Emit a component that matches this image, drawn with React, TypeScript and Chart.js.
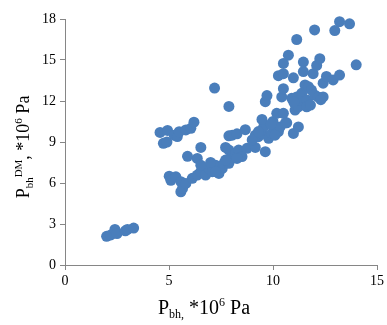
import React, { useEffect, useRef } from "react";
import { Chart, registerables } from "chart.js";

Chart.register(...registerables);

const xTicks = [0, 5, 10, 15];
const yTicks = [0, 3, 6, 9, 12, 15, 18];

const pbh = [
  2.0, 2.2, 2.4, 2.5, 2.9, 3.0, 3.3,
  4.57, 4.93, 4.73, 4.9, 5.25, 5.4, 5.49, 5.81, 6.05, 6.2,
  5.01, 5.09, 5.33, 5.57, 5.57, 5.65, 5.81, 6.12, 6.36, 6.53, 6.76, 6.92, 7.08, 7.24,
  5.89, 6.53, 6.36, 6.53, 7.0, 7.4, 7.56, 7.64, 7.24,
  7.19, 7.88,
  7.88, 8.04, 8.27, 8.67, 7.72, 7.88, 8.04, 7.88, 7.72, 8.2, 8.35, 8.51, 8.27, 8.75,
  9.15, 9.15, 9.3, 9.47, 9.55, 9.63, 9.47, 9.63, 9.71, 9.79, 9.94, 10.1, 10.0, 10.26,
  10.34, 10.18, 10.5, 10.66, 10.42, 10.5, 10.26, 10.5, 10.5, 10.74, 11.14, 10.98, 10.9,
  11.14, 11.06, 11.22, 11.3, 11.38, 10.98, 11.22, 11.46, 11.46, 11.54, 11.7, 11.62, 11.62,
  11.85, 12.0, 11.93, 12.1, 12.25, 12.0, 12.17, 12.41, 12.41, 12.57, 12.89, 13.2, 12.97,
  13.2, 13.68, 14.0, 9.0, 9.3, 10.6, 9.9, 10.1, 11.0, 11.8, 12.3
];

const pbhDM = [
  2.1, 2.2, 2.6, 2.3, 2.5, 2.6, 2.7,
  9.7, 9.85, 8.9, 9.0, 9.5, 9.4, 9.75, 9.88, 10.0, 10.45,
  6.5, 6.2, 6.45, 6.1, 5.36, 5.6, 5.97, 6.34, 6.58, 6.83, 6.58, 7.07, 6.83, 7.3,
  7.95, 8.6, 7.8, 7.3, 7.5, 6.7, 7.07, 7.44, 6.83,
  12.95, 11.6,
  9.45, 9.5, 9.6, 9.9, 8.6, 8.41, 7.93, 7.44, 7.68, 8.17, 8.41, 7.93, 7.8, 8.54,
  8.6, 9.5, 9.39, 9.63, 10.1, 8.29, 10.65, 11.95, 12.4, 9.27, 9.63, 9.88, 10.5, 9.76,
  10.1, 11.1, 11.1, 10.4, 12.3, 12.9, 13.85, 14.0, 14.75, 15.35, 16.5, 13.7, 12.2,
  12.3, 11.34, 11.58, 12.07, 12.56, 9.63, 10.1, 14.15, 14.85, 13.17, 13.05, 12.07, 11.58,
  12.8, 12.44, 14.0, 14.6, 15.1, 17.2, 12.3, 13.3, 12.3, 13.8, 13.54, 13.9, 17.15,
  17.8, 17.65, 14.65, 9.15, 9.76, 10.4, 10.3, 9.5, 11.9, 11.7, 12.1
];

type Seg = { t: string; k: "n" | "sub" | "sup" };

const xTitle: Seg[] = [
  { t: "P", k: "n" },
  { t: "bh,", k: "sub" },
  { t: " *10", k: "n" },
  { t: "6", k: "sup" },
  { t: " Pa", k: "n" },
];

const yTitle: Seg[] = [
  { t: "P", k: "n" },
  { t: "bh", k: "sub" },
  { t: "DM", k: "sup" },
  { t: ", *10", k: "n" },
  { t: "6", k: "sup" },
  { t: " Pa", k: "n" },
];

const FAMILY = '"Liberation Serif", "Times New Roman", serif';

function drawRich(
  ctx: CanvasRenderingContext2D,
  segs: Seg[],
  cx: number,
  cy: number,
  big: number,
  small: number
) {
  const fontFor = (k: string) => (k === "n" ? `${big}px ${FAMILY}` : `${small}px ${FAMILY}`);
  let total = 0;
  const widths = segs.map((s) => {
    ctx.font = fontFor(s.k);
    const w = ctx.measureText(s.t).width;
    total += w;
    return w;
  });
  let x = cx - total / 2;
  ctx.textBaseline = "alphabetic";
  ctx.textAlign = "left";
  segs.forEach((s, i) => {
    ctx.font = fontFor(s.k);
    const dy = s.k === "sub" ? big * 0.22 : s.k === "sup" ? -big * 0.4 : 0;
    ctx.fillText(s.t, x, cy + dy);
    x += widths[i];
  });
}

const titlePlugin = {
  id: "richTitles",
  afterDraw(chart: any) {
    const ctx = chart.ctx as CanvasRenderingContext2D;
    ctx.save();
    ctx.fillStyle = "#000000";
    drawRich(ctx, xTitle, 204, 314, 20, 12);
    ctx.translate(29, 147);
    ctx.rotate(-Math.PI / 2);
    drawRich(ctx, yTitle, 0, 0, 18, 11);
    ctx.restore();
  },
};

export default function App() {
  const ref = useRef<HTMLCanvasElement | null>(null);
  useEffect(() => {
    document.body.style.margin = "0";
    const canvas = ref.current;
    if (!canvas) return;
    const points = pbh.map((x, i) => ({ x, y: pbhDM[i] }));
    const chart = new Chart(canvas, {
      type: "scatter",
      data: {
        datasets: [
          {
            data: points,
            backgroundColor: "#4A7EBB",
            borderWidth: 0,
            pointRadius: 5.5,
            pointHoverRadius: 5.5,
            clip: false,
          },
        ],
      },
      options: {
        animation: false,
        responsive: false,
        events: [],
        layout: { padding: { top: 19, right: 7, left: 0, bottom: 0 } },
        plugins: { legend: { display: false }, tooltip: { enabled: false } },
        scales: {
          x: {
            type: "linear",
            min: 0,
            max: 15,
            afterBuildTicks: (s: any) => {
              s.ticks = xTicks.map((v) => ({ value: v }));
            },
            afterFit: (s: any) => {
              s.height = 60;
            },
            ticks: {
              font: { family: FAMILY, size: 14 },
              color: "#000000",
              padding: 3,
              maxRotation: 0,
            },
            grid: {
              drawOnChartArea: false,
              drawTicks: true,
              tickLength: 5,
              color: "#868686",
            },
            border: { color: "#868686", width: 1 },
          },
          y: {
            type: "linear",
            min: 0,
            max: 18,
            afterBuildTicks: (s: any) => {
              s.ticks = yTicks.map((v) => ({ value: v }));
            },
            afterFit: (s: any) => {
              s.width = 65;
            },
            ticks: {
              font: { family: FAMILY, size: 14 },
              color: "#000000",
              padding: 4,
            },
            grid: {
              drawOnChartArea: false,
              drawTicks: true,
              tickLength: 5,
              color: "#868686",
            },
            border: { color: "#868686", width: 1 },
          },
        },
      },
      plugins: [titlePlugin],
    });
    return () => chart.destroy();
  }, []);
  return (
    <div style={{ width: 387, height: 325 }}>
      <canvas ref={ref} width={387} height={325} style={{ display: "block" }} />
    </div>
  );
}
